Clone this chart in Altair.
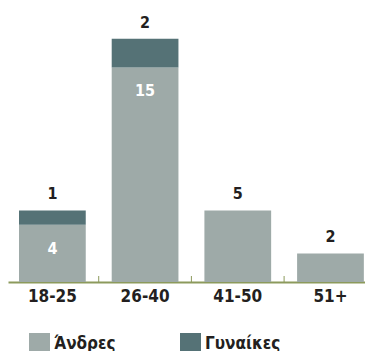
import altair as alt
import pandas as pd

categories = ["18-25", "26-40", "41-50", "51+"]
men = [4, 15, 5, 2]
women = [1, 2, 0, 0]
series_names = ["Άνδρες", "Γυναίκες"]
colors = ["#9eaaa8", "#557276"]

rows = []
for c, m, w in zip(categories, men, women):
    rows.append({"cat": c, "series": series_names[0], "value": m, "order": 0})
    rows.append({"cat": c, "series": series_names[1], "value": w, "order": 1})
df = pd.DataFrame(rows)

lab = pd.DataFrame({
    "cat": categories,
    "men": men,
    "women": women,
})
lab["total"] = lab["men"] + lab["women"]
lab["top_label"] = [str(w) if w > 0 else str(m) for m, w in zip(men, women)]
lab["inner_label"] = [str(m) if w > 0 else "" for m, w in zip(men, women)]

FONT = "DejaVu Sans Condensed, Roboto, sans-serif"
W, H = 357, 274

xscale = alt.Scale(domain=categories, paddingInner=0.28, paddingOuter=0.0656, align=0.905)
yscale = alt.Scale(domain=[0, 19.15], nice=False, zero=True)

bars = alt.Chart(df).mark_bar().encode(
    x=alt.X("cat:N", scale=xscale, sort=categories, title=None,
            axis=alt.Axis(labelAngle=0, ticks=False, domainColor="#8c9a5c", domainWidth=2,
                          labelFont=FONT, labelFontSize=17, labelFontWeight="bold",
                          labelColor="#231f20", labelPadding=6)),
    y=alt.Y("value:Q", scale=yscale, stack="zero", axis=None),
    color=alt.Color("series:N", scale=alt.Scale(domain=series_names, range=colors),
                    legend=alt.Legend(title=None, orient="none", legendX=21, legendY=325,
                                      direction="horizontal", symbolType="square",
                                      symbolSize=441, symbolStrokeWidth=0,
                                      labelFont=FONT, labelFontSize=17, labelFontWeight="bold",
                                      labelColor="#231f20", labelOffset=4, columnPadding=64)),
    order=alt.Order("order:Q"),
)

sep = pd.DataFrame({"cat": categories[1:]})
ticks = alt.Chart(sep).mark_rule(color="#8c9a5c", strokeWidth=1, xOffset=-13).encode(
    x=alt.X("cat:N", scale=xscale, sort=categories, bandPosition=0),
    y=alt.value(H - 6),
    y2=alt.value(H),
)

top_text = alt.Chart(lab).mark_text(font=FONT, fontSize=16, fontWeight="bold",
                                    color="#231f20", baseline="alphabetic", dy=-11).encode(
    x=alt.X("cat:N", scale=xscale, sort=categories),
    y=alt.Y("total:Q", scale=yscale),
    text="top_label:N",
)

inner_text = alt.Chart(lab).mark_text(font=FONT, fontSize=16, fontWeight="bold",
                                      color="white", baseline="middle", dy=24).encode(
    x=alt.X("cat:N", scale=xscale, sort=categories),
    y=alt.Y("men:Q", scale=yscale),
    text="inner_label:N",
)

chart = alt.layer(bars, ticks, top_text, inner_text).properties(
    width=W, height=H,
    autosize=alt.AutoSizeParams(type="none"),
    padding={"left": 0, "top": 0, "right": 0, "bottom": 69},
).configure(background="white").configure_view(stroke=None)

chart.save("out.html", embed_options={"renderer": "svg", "actions": False})
